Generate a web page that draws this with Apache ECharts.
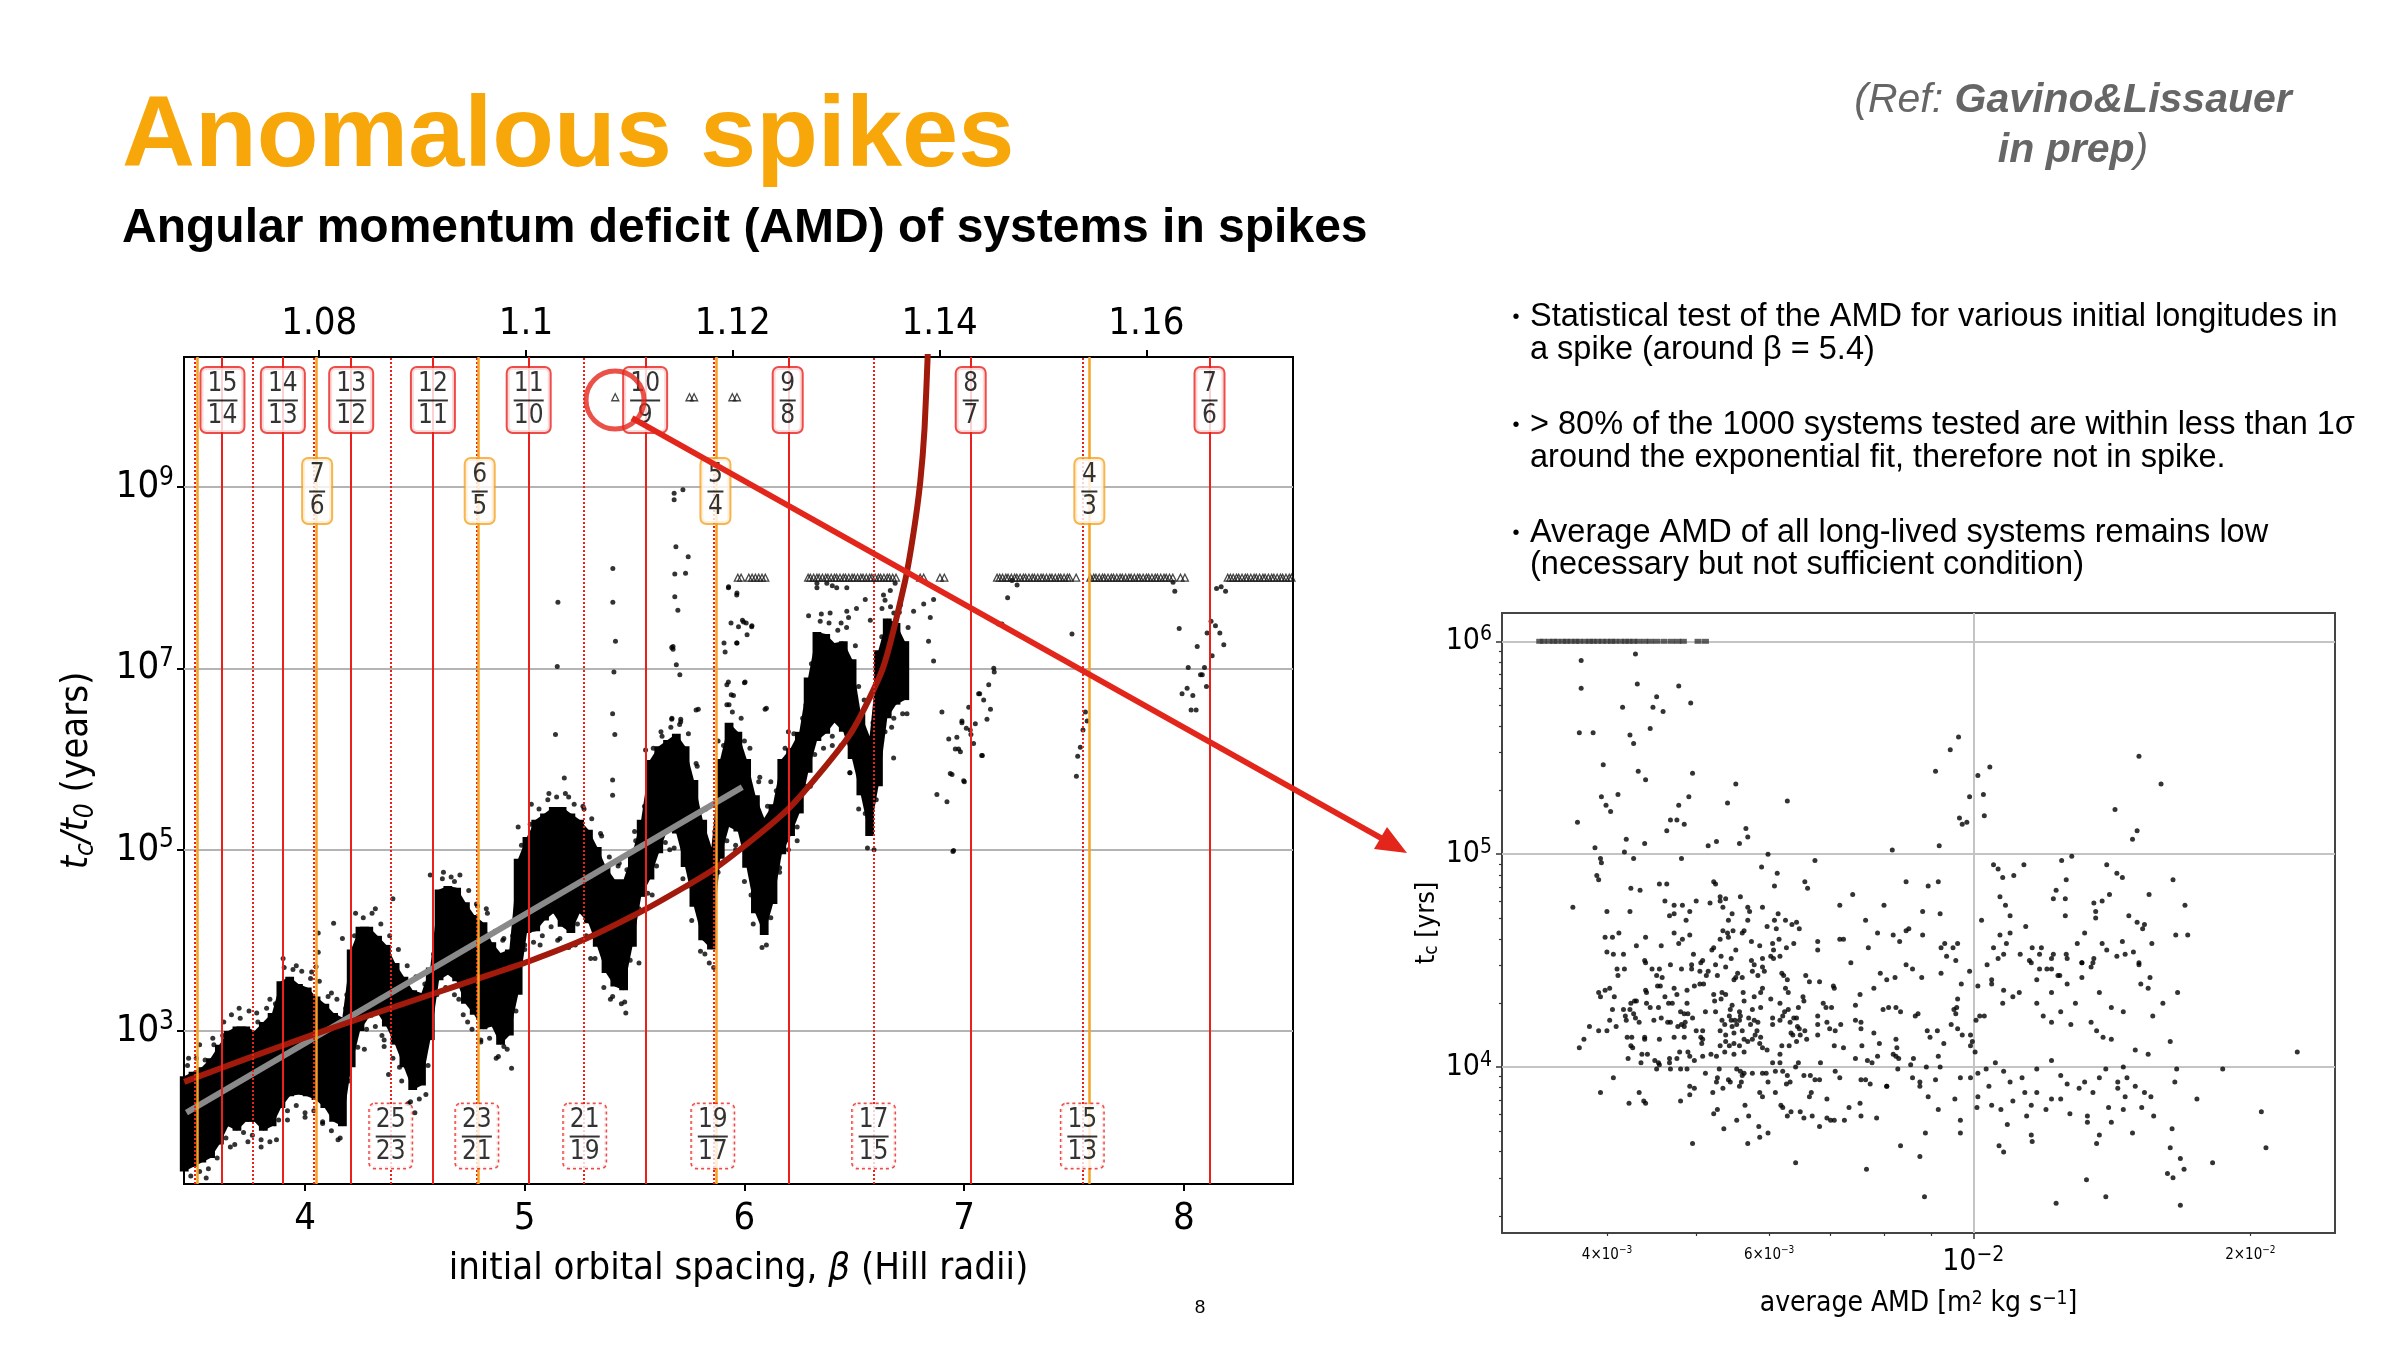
<!DOCTYPE html>
<html>
<head>
<meta charset="utf-8">
<title>Anomalous spikes</title>
<script src="https://cdn.jsdelivr.net/npm/echarts@6/dist/echarts.min.js"></script>
<style>
	html, body { margin: 0; padding: 0; background: #fff; }
	#slide { width: 2400px; height: 1350px; }
</style>
</head>
<body>
<div id="slide"></div>
<script>
// ---- left panel: crossing time vs initial spacing (log10 values)
var betaTicks = [ 4, 5, 6, 7, 8 ];
var ratioTicks = [ 1.08, 1.1, 1.12, 1.14, 1.16 ];
var tcTicks = [ 1e3, 1e5, 1e7, 1e9 ];

var firstOrderBeta = [ 3.624, 3.899, 4.210, 4.582, 5.018, 5.548, 6.197, 7.030, 8.117 ];
var firstOrderLabels = [ '15/14', '14/13', '13/12', '12/11', '11/10', '10/9', '9/8', '8/7', '7/6' ];
var secondOrderBeta = [ 3.510, 4.055, 4.795, 5.868, 7.570 ];
var secondOrderLabels = [ '', '7/6', '6/5', '5/4', '4/3' ];
var dottedBeta = [ 3.500, 3.763, 4.045, 4.390, 4.782, 5.273, 5.856, 6.588, 7.538 ];
var dottedLabels = [ '', '', '', '25/23', '23/21', '21/19', '19/17', '17/15', '15/13' ];

var expFitBeta = [ 3.46, 5.99 ];
var expFitLog = [ 2.10, 5.69 ];
var divergentBeta = [ 3.45, 3.75, 4.06, 4.30, 4.57, 4.79, 5.02, 5.28, 5.54, 5.87, 6.20, 6.48, 6.63, 6.73, 6.77, 6.80, 6.82, 6.835 ];
var divergentLog = [ 2.44, 2.71, 2.98, 3.18, 3.40, 3.58, 3.77, 4.02, 4.33, 4.80, 5.45, 6.27, 7.00, 7.95, 8.50, 9.05, 9.65, 10.50 ];

// dense part of the cloud: [beta, lowest log10, highest log10]
var cloudCore = [
	[ 3.45, 1.45, 2.50 ], [ 3.49, 1.50, 2.55 ], [ 3.53, 1.55, 2.60 ], [ 3.57, 1.60, 2.70 ],
	[ 3.61, 1.75, 2.85 ], [ 3.65, 1.95, 3.00 ], [ 3.69, 1.90, 3.05 ], [ 3.73, 2.00, 3.05 ],
	[ 3.77, 2.00, 3.00 ], [ 3.81, 1.90, 3.10 ], [ 3.85, 1.95, 3.20 ], [ 3.89, 2.15, 3.55 ],
	[ 3.93, 2.28, 3.60 ], [ 3.97, 2.30, 3.52 ], [ 4.01, 2.28, 3.48 ], [ 4.05, 2.24, 3.38 ],
	[ 4.09, 2.15, 3.30 ], [ 4.13, 2.00, 3.20 ], [ 4.17, 1.95, 3.15 ], [ 4.21, 2.60, 3.90 ],
	[ 4.25, 3.00, 4.15 ], [ 4.29, 3.15, 4.15 ], [ 4.33, 3.20, 4.05 ], [ 4.37, 3.05, 3.95 ],
	[ 4.41, 2.85, 3.75 ], [ 4.45, 2.60, 3.60 ], [ 4.49, 2.35, 3.45 ], [ 4.53, 2.40, 3.42 ],
	[ 4.57, 2.90, 3.70 ], [ 4.61, 3.56, 4.56 ], [ 4.65, 3.62, 4.60 ], [ 4.69, 3.55, 4.58 ],
	[ 4.73, 3.30, 4.42 ], [ 4.77, 3.18, 4.28 ], [ 4.81, 3.02, 4.20 ], [ 4.85, 3.05, 3.98 ],
	[ 4.89, 2.85, 3.86 ], [ 4.93, 2.95, 3.90 ], [ 4.97, 3.40, 4.90 ], [ 5.01, 4.08, 5.14 ],
	[ 5.05, 4.10, 5.33 ], [ 5.09, 4.22, 5.40 ], [ 5.13, 4.30, 5.47 ], [ 5.17, 4.15, 5.47 ],
	[ 5.21, 4.08, 5.40 ], [ 5.25, 4.30, 5.33 ], [ 5.29, 4.19, 5.22 ], [ 5.33, 3.93, 5.03 ],
	[ 5.37, 3.64, 4.81 ], [ 5.41, 3.49, 4.67 ], [ 5.45, 3.45, 4.67 ], [ 5.49, 3.93, 4.96 ],
	[ 5.53, 4.48, 5.33 ], [ 5.57, 4.67, 5.99 ], [ 5.61, 4.96, 6.14 ], [ 5.65, 5.22, 6.21 ],
	[ 5.69, 5.18, 6.28 ], [ 5.73, 4.81, 6.14 ], [ 5.77, 4.37, 5.77 ], [ 5.81, 4.00, 5.33 ],
	[ 5.85, 3.90, 5.03 ], [ 5.89, 4.90, 6.00 ], [ 5.93, 5.25, 6.40 ], [ 5.97, 5.20, 6.30 ],
	[ 6.01, 4.80, 6.00 ], [ 6.05, 4.30, 5.60 ], [ 6.09, 4.06, 5.35 ], [ 6.13, 4.40, 5.50 ],
	[ 6.17, 4.95, 6.00 ], [ 6.21, 5.15, 6.12 ], [ 6.25, 5.40, 6.30 ], [ 6.29, 5.85, 6.90 ],
	[ 6.33, 6.20, 7.40 ], [ 6.37, 6.28, 7.38 ], [ 6.41, 6.40, 7.28 ], [ 6.45, 6.30, 7.30 ],
	[ 6.49, 6.00, 7.10 ], [ 6.53, 5.60, 6.50 ], [ 6.57, 5.15, 6.25 ], [ 6.61, 5.70, 7.20 ],
	[ 6.65, 6.45, 7.55 ], [ 6.69, 6.60, 7.50 ], [ 6.73, 6.65, 7.30 ]
];

// scattered systems on the ragged upper and lower edges of the dense band
var cloudEdge = [
	[3.465,2.62],[3.44,1.36],[3.505,2.70],[3.48,1.40],[3.545,2.68],[3.52,1.45],[3.585,2.85],[3.56,1.48],[3.625,2.95],[3.60,1.60],
	[3.665,3.18],[3.64,1.82],[3.705,3.14],[3.68,1.75],[3.745,3.22],[3.72,1.88],[3.785,3.10],[3.76,1.85],[3.825,3.25],[3.80,1.80],
	[3.865,3.30],[3.84,1.78],[3.905,3.70],[3.88,2.02],[3.945,3.68],[3.92,2.12],[3.985,3.66],[3.96,2.18],[4.025,3.58],[4.00,2.10],
	[4.065,3.55],[4.04,2.12],[4.105,3.38],[4.08,1.98],[4.145,3.35],[4.12,1.90],[4.185,3.25],[4.16,1.82],[4.225,4.05],[4.20,2.45],
	[4.265,4.25],[4.24,2.82],[4.305,4.30],[4.28,3.02],[4.345,4.18],[4.32,3.05],[4.385,4.05],[4.36,2.90],[4.425,3.90],[4.40,2.70],
	[4.465,3.72],[4.44,2.45],[4.505,3.60],[4.48,2.22],[4.545,3.52],[4.52,2.25],[4.585,3.85],[4.56,2.62],[4.625,4.68],[4.60,3.42],
	[4.665,4.70],[4.64,3.48],[4.705,4.72],[4.68,3.40],[4.745,4.55],[4.72,3.18],[4.785,4.38],[4.76,3.02],[4.825,4.35],[4.80,2.88],
	[4.865,4.10],[4.84,2.92],[4.905,4.02],[4.88,2.72],[4.945,4.05],[4.92,2.80],[4.985,5.05],[4.96,3.22],[5.025,5.28],[5.00,3.95],
	[5.065,5.45],[5.04,3.98],[5.105,5.55],[5.08,4.05],[5.145,5.58],[5.12,4.15],[5.185,5.62],[5.16,4.02],[5.225,5.50],[5.20,3.92],
	[5.265,5.48],[5.24,4.18],[5.305,5.34],[5.28,4.05],[5.345,5.18],[5.32,3.80],[5.385,4.92],[5.36,3.48],[5.425,4.82],[5.40,3.38],
	[5.465,4.78],[5.44,3.30],[5.505,5.10],[5.48,3.78],[5.545,5.48],[5.52,4.35],[5.585,6.12],[5.56,4.52],[5.625,6.25],[5.60,4.82],
	[5.665,6.35],[5.64,5.08],[5.705,6.38],[5.68,5.02],[5.745,6.28],[5.72,4.68],[5.785,5.92],[5.76,4.22],[5.825,5.45],[5.80,3.88],
	[5.865,5.20],[5.84,3.75],[5.905,6.15],[5.88,4.75],[5.945,6.52],[5.92,5.10],[5.985,6.45],[5.96,5.05],[6.025,6.12],[6.00,4.65],
	[6.065,5.75],[6.04,4.18],[6.105,5.48],[6.08,3.92],[6.145,5.65],[6.12,4.25],[6.185,6.12],[6.16,4.80],[6.225,6.28],[6.20,5.00],
	[6.265,6.45],[6.24,5.25],[6.305,7.05],[6.28,5.70],[6.345,7.52],[6.32,6.05],[6.385,7.50],[6.36,6.12],[6.425,7.42],[6.40,6.25],
	[6.465,7.45],[6.44,6.15],[6.505,7.25],[6.48,5.85],[6.545,6.65],[6.52,5.45],[6.585,6.40],[6.56,5.02],[6.625,7.35],[6.60,5.55],
	[6.665,7.68],[6.64,6.30],[6.705,7.62],[6.68,6.45],[6.745,7.45],[6.72,6.50]
];

// single systems well away from the dense band: [beta, log10 tc/t0]
var looseSystems = [
	[3.47,2.70],[3.52,2.85],[3.55,1.38],[3.58,2.92],[3.63,3.10],[3.66,1.72],[3.70,3.25],[3.74,1.78],[3.78,3.20],[3.80,1.72],
	[3.84,3.35],[3.87,1.80],[3.90,3.80],[3.92,2.02],[3.96,3.72],[4.00,2.05],[4.03,3.65],[4.06,4.08],[4.06,3.87],[4.05,3.71],
	[4.08,2.00],[4.12,3.42],[4.13,4.19],[4.17,4.02],[4.15,1.80],[4.19,3.40],[4.23,4.30],[4.27,2.80],[4.32,4.35],[4.35,2.95],
	[4.40,4.46],[4.38,2.52],[4.36,2.83],[4.43,2.60],[4.47,2.20],[4.50,2.10],[4.55,2.30],[4.57,4.72],[4.60,3.40],[4.63,4.75],
	[4.68,4.65],[4.70,3.35],[4.74,3.10],[4.78,4.40],[4.80,2.90],[4.83,4.30],[4.87,2.70],[4.90,4.00],[4.94,2.59],[4.905,2.83],
	[4.97,5.25],[5.00,3.90],[5.03,5.50],[5.07,3.95],[5.11,5.62],[5.15,4.00],[5.20,5.58],[5.23,3.95],[5.27,5.45],[5.30,3.80],
	[5.35,5.15],[5.39,3.35],[5.43,4.85],[5.455,3.32],[5.46,3.20],[5.50,5.20],[5.52,3.75],[5.55,6.10],[5.58,4.50],[5.62,6.30],
	[5.66,5.00],[5.74,4.60],[5.78,5.95],[5.82,3.85],[5.86,3.70],[5.88,6.20],[5.92,6.60],[5.96,5.00],[6.00,6.20],[6.03,4.50],
	[6.07,5.80],[6.10,3.95],[6.12,5.75],[6.16,4.75],[6.20,6.30],[6.24,5.10],[6.28,6.60],[6.30,5.70],[6.35,7.60],[6.40,6.15],
	[6.44,7.50],[6.48,5.85],[6.52,6.80],[6.55,5.40],[6.59,5.00],[6.60,6.50],[6.64,7.75],[6.67,6.35],[6.71,7.70],[6.74,6.50],
	[5.14,6.27],[5.18,5.79],[5.40,6.50],[5.41,6.27],[5.40,5.77],[5.40,5.60],[5.78,6.54],[5.67,6.45],[5.71,6.41],[6.10,6.56],
	[5.92,6.82],[6.00,6.84],[5.94,6.71],[5.93,6.60],[5.151,7.73],[5.148,7.02],[5.401,8.10],[5.401,7.73],[5.413,7.30],[5.406,6.96],
	[5.68,8.86],[5.72,8.97],[5.68,8.93],[5.688,8.34],[5.744,8.23],[5.683,8.04],[5.732,8.05],[5.683,7.79],[5.697,7.64],[5.675,7.24],
	[5.675,7.21],[5.69,7.04],[5.706,6.93],[5.669,7.23],[5.927,7.89],[5.965,7.81],[5.996,7.51],[5.973,7.46],[6.034,7.47],[5.912,7.18],
	[5.965,7.28],[5.927,6.85],[6.003,6.85],[5.95,6.70],[6.094,6.55],[5.79,6.55],[5.669,6.44],[5.71,6.44],[5.928,7.90],[5.966,7.83],
	[5.939,7.50],[5.991,7.53],[6.008,7.50],[6.033,7.46],[6.012,7.37],[5.966,7.28],[5.907,7.28],[6.292,7.58],[6.33,7.89],[6.39,7.61],
	[6.42,7.89],[6.474,7.56],[6.466,7.63],[6.51,7.66],[6.55,7.76],[6.573,7.53],[6.633,7.81],[6.664,7.86],[6.68,7.61],[6.626,7.66],
	[6.40,7.91],[6.375,7.94],[6.686,7.94],[6.33,7.94],[6.466,7.89],[6.77,7.63],[6.816,7.71],[6.861,7.76],[6.846,7.56],[6.838,7.30],
	[6.861,7.08],[6.679,6.01],[6.899,6.52],[6.93,6.22],[6.975,6.11],[6.937,5.84],[6.876,5.61],[6.922,5.53],[6.998,5.76],[6.952,4.99],
	[6.99,6.42],[7.028,6.32],[7.043,6.17],[7.021,6.57],[7.066,6.72],[7.089,6.65],[7.12,6.55],[7.135,7.00],[7.08,6.04],[6.967,6.24],
	[6.960,6.11],[6.983,6.08],[6.990,6.40],[7.010,6.34],[7.031,6.27],[7.051,6.39],[7.071,6.72],[7.083,6.04],[7.104,6.44],[7.112,6.82],
	[7.137,6.96],[7.001,5.75],[6.945,5.83],[6.949,4.98],[7.157,7.49],[7.172,7.49],[7.198,7.78],[7.218,7.97],[7.241,7.92],[7.491,7.38],
	[7.552,6.52],[7.560,6.42],[7.541,6.32],[7.529,6.13],[7.517,6.03],[7.511,5.81],[7.951,7.95],[7.959,7.85],[7.979,7.44],[8.020,7.01],
	[7.992,6.72],[8.015,6.78],[8.041,6.70],[8.033,6.54],[8.056,6.54],[8.061,7.24],[8.076,6.93],[8.084,6.93],[8.094,7.01],[8.103,6.80],
	[8.106,7.39],[8.124,7.52],[8.129,7.14],[8.144,7.47],[8.164,7.39],[8.182,7.26],[8.149,7.88],[8.170,7.90],[8.190,7.85]
];

// systems still stable at the end of the integration (triangles)
var survivorBeta = [
	5.970, 5.985, 6.020, 6.035, 6.050, 6.065, 6.080, 6.095,
	6.290, 6.300, 6.315, 6.330, 6.340, 6.355, 6.370, 6.380, 6.395, 6.410, 6.420, 6.435, 6.450, 6.460, 6.475, 6.490,
	6.500, 6.515, 6.530, 6.540, 6.555, 6.570, 6.580, 6.595, 6.610, 6.620, 6.635, 6.650, 6.660, 6.675, 6.690,
	6.800, 6.816, 6.890, 6.910,
	7.150, 7.162, 7.175, 7.190, 7.200, 7.215, 7.230, 7.240, 7.255, 7.270, 7.280, 7.295, 7.310, 7.320,
	7.335, 7.350, 7.360, 7.375, 7.390, 7.400, 7.415, 7.430, 7.440, 7.455, 7.470, 7.480, 7.510,
	7.575, 7.590, 7.600, 7.615, 7.630, 7.640, 7.655, 7.670, 7.680, 7.695, 7.710, 7.720, 7.735, 7.750,
	7.760, 7.775, 7.790, 7.800, 7.815, 7.830, 7.840, 7.855, 7.870, 7.880, 7.895, 7.910, 7.920, 7.935, 7.950, 7.985, 8.005,
	8.200, 8.212, 8.225, 8.240, 8.250, 8.265, 8.280, 8.290, 8.305, 8.320, 8.330, 8.345, 8.360, 8.370,
	8.385, 8.400, 8.410, 8.425, 8.440, 8.450, 8.465, 8.480, 8.490
];
var survivorLog = 8.0;
var longSurvivorBeta = [ 5.412, 5.750, 5.771, 5.945, 5.966 ];
var longSurvivorLog = 9.99;

// ---- right panel: crossing time vs average AMD, [log10 AMD, log10 tc]
var amdLabelTicks = [ 0.004, 0.006, 0.01, 0.02 ];
var amdMajorTicks = [ 0.01 ];
var amdMinorTicks = [ 0.004, 0.005, 0.006, 0.007, 0.008, 0.009, 0.02 ];
var tcRightTicks = [ 1e4, 1e5, 1e6 ];
var tcRightMinor = [ 2e3, 3e3, 4e3, 5e3, 6e3, 7e3, 8e3, 9e3, 2e4, 3e4, 4e4, 5e4, 6e4, 7e4, 8e4, 9e4, 2e5, 3e5, 4e5, 5e5, 6e5, 7e5, 8e5, 9e5 ];

var cappedAmdLog = [ -2.471, -2.467, -2.461, -2.456, -2.452, -2.446, -2.442, -2.437, -2.432, -2.428, -2.422, -2.417, -2.413, -2.408, -2.403, -2.398,
	-2.393, -2.389, -2.383, -2.378, -2.374, -2.369, -2.364, -2.357, -2.351, -2.344, -2.336, -2.328, -2.321, -2.315, -2.299, -2.291 ];
var cappedTcLog = 6.0;

// the crowded lower-left block (AMD < 1e-2, 10^3.66 < tc < 10^4.78)
var amdSystemsCrowded = [
	[-2.435,4.75],[-2.398,4.73],[-2.373,4.73],[-2.335,4.78],[-2.325,4.76],[-2.316,4.76],[-2.301,4.78],[-2.286,4.77],[-2.275,4.78],[-2.272,4.75],
	[-2.330,4.71],[-2.325,4.72],[-2.308,4.73],[-2.312,4.69],[-2.262,4.72],[-2.266,4.69],[-2.245,4.75],[-2.243,4.73],[-2.245,4.69],[-2.229,4.75],
	[-2.145,4.76],[-2.097,4.76],[-2.055,4.73],[-2.036,4.72],[-2.117,4.69],[-2.212,4.72],[-2.216,4.69],[-2.204,4.69],[-2.197,4.67],[-2.192,4.68],
	[-2.189,4.65],[-2.224,4.66],[-2.214,4.65],
	[-2.400,4.61],[-2.392,4.61],[-2.385,4.63],[-2.356,4.61],[-2.325,4.63],[-2.308,4.62],[-2.316,4.60],[-2.320,4.58],[-2.366,4.57],[-2.339,4.57],
	[-2.272,4.64],[-2.267,4.63],[-2.261,4.64],[-2.251,4.63],[-2.249,4.64],[-2.275,4.60],[-2.266,4.61],[-2.241,4.59],[-2.232,4.57],[-2.218,4.58],
	[-2.211,4.60],[-2.217,4.55],[-2.203,4.56],[-2.195,4.58],[-2.169,4.59],[-2.169,4.55],[-2.145,4.60],[-2.141,4.60],[-2.104,4.63],[-2.087,4.62],
	[-2.080,4.59],[-2.073,4.64],[-2.070,4.65],[-2.055,4.62],[-2.114,4.56],[-2.031,4.58],[-2.035,4.56],[-2.022,4.56],[-2.017,4.58],[-2.029,4.52],
	[-2.019,4.50],[-2.284,4.55],[-2.282,4.56],[-2.258,4.55],[-2.398,4.54],[-2.391,4.53],[-2.380,4.53],[-2.304,4.53],[-2.274,4.52],[-2.263,4.51],
	[-2.357,4.50],[-2.356,4.49],[-2.329,4.48],[-2.294,4.50],[-2.296,4.49],[-2.306,4.48],[-2.306,4.46],[-2.280,4.48],[-2.269,4.47],[-2.241,4.50],
	[-2.238,4.48],[-2.229,4.47],[-2.229,4.51],[-2.220,4.52],[-2.210,4.52],[-2.217,4.51],[-2.387,4.46],[-2.379,4.46],[-2.386,4.43],[-2.349,4.46],
	[-2.344,4.43],[-2.341,4.46],[-2.338,4.42],[-2.317,4.46],[-2.297,4.45],[-2.288,4.45],[-2.290,4.43],[-2.278,4.43],[-2.256,4.44],[-2.258,4.42],
	[-2.260,4.41],[-2.251,4.42],[-2.240,4.45],[-2.234,4.43],[-2.227,4.45],[-2.208,4.44],[-2.206,4.43],[-2.202,4.41],[-2.182,4.43],[-2.178,4.40],
	[-2.167,4.40],[-2.133,4.49],[-2.073,4.48],[-2.066,4.46],[-2.056,4.42],[-2.101,4.44],[-2.094,4.41],[-2.085,4.42],[-2.035,4.44],[-2.004,4.45],
	[-2.013,4.39],[-1.995,4.38],[-2.108,4.37],[-2.152,4.38],[-2.151,4.37],
	[-2.407,4.35],[-2.405,4.33],[-2.400,4.36],[-2.395,4.37],[-2.390,4.33],[-2.356,4.36],[-2.355,4.35],[-2.343,4.38],[-2.340,4.38],[-2.325,4.37],
	[-2.322,4.34],[-2.311,4.36],[-2.303,4.38],[-2.297,4.39],[-2.293,4.39],[-2.335,4.33],[-2.331,4.30],[-2.327,4.30],[-2.342,4.28],[-2.351,4.28],
	[-2.355,4.30],[-2.368,4.31],[-2.366,4.31],[-2.372,4.30],[-2.373,4.27],[-2.369,4.25],[-2.380,4.27],[-2.392,4.27],[-2.282,4.34],[-2.273,4.35],
	[-2.269,4.34],[-2.274,4.32],[-2.281,4.31],[-2.280,4.26],[-2.291,4.26],[-2.311,4.30],[-2.318,4.26],[-2.314,4.25],[-2.262,4.29],[-2.264,4.27],
	[-2.254,4.26],[-2.250,4.35],[-2.249,4.31],[-2.238,4.33],[-2.229,4.37],[-2.231,4.35],[-2.220,4.32],[-2.210,4.30],[-2.201,4.35],[-2.204,4.37],
	[-2.185,4.33],[-2.184,4.31],[-2.205,4.26],[-2.201,4.27],[-2.190,4.28],[-2.231,4.28],[-2.253,4.24],[-2.240,4.27],[-2.163,4.30],[-2.160,4.28],
	[-2.154,4.28],[-2.128,4.29],[-2.123,4.34],[-2.098,4.27],[-2.092,4.28],[-2.084,4.28],[-2.079,4.26],[-2.060,4.25],[-2.021,4.27],[-2.018,4.28],
	[-2.017,4.32],[-2.019,4.25],
	[-2.417,4.19],[-2.407,4.17],[-2.398,4.17],[-2.395,4.22],[-2.388,4.19],[-2.377,4.22],[-2.378,4.24],[-2.367,4.23],[-2.363,4.21],[-2.347,4.22],
	[-2.339,4.23],[-2.332,4.21],[-2.329,4.21],[-2.321,4.19],[-2.317,4.20],[-2.313,4.21],[-2.314,4.19],[-2.310,4.25],[-2.305,4.23],[-2.301,4.17],
	[-2.294,4.17],[-2.296,4.14],[-2.273,4.22],[-2.270,4.20],[-2.275,4.17],[-2.265,4.24],[-2.263,4.22],[-2.259,4.22],[-2.257,4.20],[-2.262,4.19],
	[-2.254,4.22],[-2.244,4.23],[-2.238,4.22],[-2.234,4.21],[-2.242,4.20],[-2.218,4.23],[-2.210,4.22],[-2.207,4.24],[-2.199,4.21],[-2.195,4.23],
	[-2.192,4.23],[-2.191,4.19],[-2.189,4.18],[-2.188,4.15],[-2.196,4.15],[-2.181,4.13],[-2.183,4.17],[-2.218,4.20],[-2.235,4.17],[-2.237,4.15],
	[-2.231,4.14],[-2.251,4.17],[-2.260,4.16],[-2.269,4.15],[-2.249,4.13],[-2.169,4.24],[-2.169,4.20],[-2.169,4.15],[-2.159,4.21],[-2.156,4.18],
	[-2.150,4.17],[-2.144,4.20],[-2.128,4.22],[-2.122,4.21],[-2.122,4.18],[-2.108,4.16],[-2.102,4.11],[-2.084,4.13],[-2.063,4.24],[-2.050,4.17],
	[-2.039,4.17],[-2.047,4.14],[-2.024,4.20],[-2.017,4.18],[-2.012,4.15],[-2.003,4.15],[-1.997,4.22],[-1.993,4.24],
	[-2.428,4.09],[-2.423,4.13],[-2.376,4.14],[-2.371,4.14],[-2.372,4.10],[-2.370,4.09],[-2.357,4.14],[-2.357,4.13],[-2.341,4.13],[-2.325,4.14],
	[-2.314,4.14],[-2.295,4.11],[-2.294,4.13],[-2.275,4.10],[-2.269,4.12],[-2.265,4.10],[-2.260,4.11],[-2.254,4.10],[-2.245,4.12],[-2.240,4.13],
	[-2.232,4.11],[-2.229,4.09],[-2.224,4.08],[-2.249,4.07],[-2.260,4.06],[-2.270,4.07],[-2.279,4.05],[-2.285,4.06],[-2.294,4.05],[-2.303,4.03],
	[-2.308,4.05],[-2.310,4.07],[-2.319,4.07],[-2.322,4.04],[-2.330,4.04],[-2.330,4.02],[-2.342,4.02],[-2.346,4.03],[-2.354,4.06],[-2.360,4.06],
	[-2.361,4.02],[-2.375,4.04],[-2.208,4.10],[-2.210,4.06],[-2.200,4.10],[-2.198,4.16],[-2.192,4.12],[-2.151,4.10],[-2.141,4.09],[-2.121,4.10],
	[-2.115,4.03],[-2.110,4.02],[-2.104,4.05],[-2.087,4.06],[-2.083,4.09],[-2.084,4.05],[-2.081,4.04],[-2.065,4.04],[-2.038,4.05],[-2.032,4.11],
	[-2.001,4.12],[-2.003,4.10],[-1.998,4.07],[-2.128,4.04],[-2.166,4.02],
	[-2.391,3.95],[-2.344,3.99],[-2.341,4.01],[-2.329,3.99],[-2.318,3.99],[-2.311,3.99],[-2.291,3.97],[-2.276,3.99],[-2.278,3.95],[-2.279,3.93],
	[-2.272,3.90],[-2.266,3.94],[-2.264,3.93],[-2.257,3.99],[-2.253,3.98],[-2.251,3.96],[-2.249,3.97],[-2.252,3.93],[-2.254,3.91],[-2.240,3.97],
	[-2.229,3.97],[-2.225,3.97],[-2.218,4.02],[-2.215,3.98],[-2.210,4.02],[-2.207,3.98],[-2.202,3.96],[-2.203,3.92],[-2.199,3.93],[-2.193,4.00],
	[-2.190,4.02],[-2.184,3.96],[-2.177,3.96],[-2.172,3.94],[-2.167,3.94],[-2.150,3.98],[-2.145,3.95],[-2.122,3.94],[-2.117,3.94],[-2.112,3.92],
	[-2.094,3.91],[-2.082,3.99],[-2.066,3.95],[-2.058,3.93],[-2.058,3.91],[-2.068,4.01],[-2.051,4.00],[-2.041,3.94],[-2.036,4.00],[-2.014,3.95],
	[-2.003,3.95],[-1.995,3.97],
	[-2.405,3.88],[-2.363,3.88],[-2.374,3.83],[-2.358,3.84],[-2.356,3.83],[-2.318,3.84],[-2.308,3.91],[-2.303,3.90],[-2.308,3.87],[-2.283,3.88],
	[-2.282,3.78],[-2.278,3.80],[-2.271,3.71],[-2.257,3.75],[-2.248,3.82],[-2.244,3.77],[-2.232,3.88],[-2.229,3.86],[-2.223,3.93],[-2.215,3.88],
	[-2.209,3.82],[-2.207,3.81],[-2.202,3.77],[-2.198,3.79],[-2.188,3.79],[-2.184,3.76],[-2.176,3.88],[-2.178,3.86],[-2.175,3.77],[-2.167,3.72],
	[-2.159,3.85],[-2.159,3.76],[-2.155,3.75],[-2.151,3.75],[-2.140,3.75],[-2.135,3.81],[-2.122,3.77],[-2.123,3.83],[-2.105,3.76],[-2.094,3.91],
	[-2.049,3.86],[-2.038,3.80],[-2.020,3.85],[-2.014,3.75],[-1.995,3.86],[-1.996,3.81],[-2.233,3.72],[-2.223,3.69],[-2.232,3.67],[-2.052,3.69],
	[-2.014,3.69]
];

// everything outside that block
var amdSystemsSpread = [
	[-2.426,5.91],[-2.426,5.78],[-2.367,5.94],[-2.365,5.80],[-2.320,5.79],[-2.344,5.74],[-2.348,5.69],[-2.381,5.69],[-2.337,5.67],[-2.307,5.71],
	[-2.428,5.57],[-2.413,5.57],[-2.351,5.59],[-2.373,5.56],[-2.369,5.52],[-2.402,5.42],[-2.364,5.39],[-2.356,5.35],[-2.305,5.38],[-2.258,5.33],
	[-2.386,5.28],[-2.404,5.27],[-2.399,5.23],[-2.394,5.20],[-2.309,5.27],[-2.267,5.24],[-2.320,5.23],[-2.202,5.25],[-2.430,5.15],[-2.329,5.16],
	[-2.322,5.16],[-2.314,5.14],[-2.333,5.11],[-2.377,5.07],[-2.357,5.05],[-2.247,5.12],[-2.245,5.08],[-2.254,5.05],[-2.279,5.06],[-2.288,5.04],
	[-2.411,5.03],[-2.405,4.98],[-2.404,4.96],[-2.379,5.01],[-2.369,4.98],[-2.317,4.98],[-2.223,5.00],[-2.088,5.02],[-2.037,5.04],[-2.172,4.97],
	[-2.230,4.94],[-2.213,4.91],[-2.409,4.90],[-2.407,4.88],[-2.341,4.86],[-2.333,4.86],[-2.372,4.84],[-2.362,4.83],[-2.282,4.87],[-2.280,4.86],
	[-2.183,4.87],[-2.180,4.84],[-2.216,4.85],[-2.073,4.87],[-2.049,4.85],[-2.038,4.87],[-2.275,4.80],[-2.269,4.79],[-2.253,4.80],[-2.131,4.81],
	[-2.016,5.55],[-2.025,5.49],[-2.041,5.39],[-1.995,5.37],[-1.982,5.41],[-2.004,5.27],[-1.989,5.28],[-1.988,5.18],[-2.015,5.17],[-2.012,5.14],
	[-2.007,5.15],[-1.820,5.46],[-1.796,5.33],[-1.846,5.21],[-1.822,5.11],[-1.827,5.07],[-1.893,4.99],[-1.904,4.97],[-1.855,4.95],[-1.844,4.91],
	[-1.838,4.89],[-1.783,4.88],[-1.978,4.95],[-1.973,4.93],[-1.968,4.89],[-1.956,4.90],[-1.945,4.95],[-1.910,4.83],[-1.913,4.79],[-1.899,4.88],
	[-1.900,4.79],[-1.852,4.81],[-1.860,4.78],[-1.869,4.77],[-1.867,4.73],[-1.809,4.81],[-1.770,4.76],[-1.971,4.80],[-1.965,4.76],
	[-1.991,4.69],[-1.960,4.71],[-1.900,4.71],[-1.943,4.66],[-1.831,4.71],[-1.822,4.68],[-1.814,4.67],[-1.816,4.65],[-1.780,4.62],[-1.767,4.62],
	[-1.879,4.63],[-1.867,4.70],[-1.838,4.59],[-1.806,4.58],[-1.960,4.63],[-1.971,4.62],[-1.978,4.56],[-1.964,4.58],[-1.967,4.53],[-1.973,4.51],
	[-1.985,4.48],[-1.949,4.53],[-1.936,4.56],[-1.926,4.56],[-1.928,4.53],[-1.939,4.50],[-1.913,4.53],[-1.915,4.51],[-1.899,4.53],[-1.898,4.51],
	[-1.887,4.58],[-1.882,4.49],[-1.869,4.51],[-1.870,4.49],[-1.860,4.58],[-1.855,4.55],[-1.844,4.52],[-1.835,4.53],[-1.826,4.54],[-1.820,4.48],
	[-1.808,4.42],[-1.920,4.46],[-1.908,4.43],[-1.882,4.42],[-1.980,4.41],[-1.931,4.41],
	[-1.988,4.24],[-1.980,4.39],[-1.967,4.36],[-1.968,4.30],[-1.957,4.33],[-1.950,4.35],[-1.937,4.49],[-1.928,4.46],[-1.915,4.46],[-1.906,4.43],
	[-1.898,4.39],[-1.915,4.35],[-1.931,4.30],[-1.924,4.24],[-1.915,4.21],[-1.905,4.26],[-1.894,4.20],[-1.889,4.30],[-1.882,4.49],[-1.872,4.47],
	[-1.863,4.35],[-1.850,4.28],[-1.872,4.21],[-1.866,4.17],[-1.859,4.14],[-1.850,4.13],[-1.837,4.26],[-1.820,4.49],[-1.818,4.39],[-1.810,4.37],
	[-1.794,4.30],[-1.805,4.24],[-1.824,4.08],[-1.810,4.06],[-1.786,4.12],[-1.778,4.35],[-1.779,3.99],[-1.781,3.93],[-1.757,3.85],[-1.729,3.99],
	[-1.648,4.07],[-1.837,4.00],[-1.856,3.99],[-1.833,3.95],[-1.843,3.93],[-1.863,3.95],[-1.879,3.93],[-1.898,3.92],[-1.905,3.96],[-1.915,4.03],
	[-1.931,3.99],[-1.947,3.95],[-1.960,3.93],[-1.967,3.98],[-1.976,4.02],[-1.986,3.99],[-1.983,3.91],[-1.980,3.82],[-1.970,3.80],[-1.963,3.73],
	[-1.957,3.84],[-1.944,3.88],[-1.937,3.82],[-1.931,3.88],[-1.921,3.80],[-1.915,3.85],[-1.905,3.85],[-1.895,3.78],[-1.876,3.77],[-1.885,3.90],
	[-1.870,3.88],[-1.853,3.81],[-1.843,3.90],[-1.835,3.86],[-1.824,3.91],[-1.814,3.88],[-1.807,3.86],[-1.817,3.81],[-1.804,3.77],[-1.837,3.80],
	[-1.827,3.69],[-1.850,3.74],[-1.863,3.68],[-1.866,3.64],[-1.876,3.74],[-1.942,3.77],[-1.937,3.68],[-1.936,3.65],[-1.972,3.63],[-1.967,3.60],
	[-2.058,3.58],[-2.079,3.63],[-2.053,3.39],[-2.245,3.64],[-2.305,3.64],[-1.784,3.71],[-1.786,3.62],[-1.775,3.57],[-1.771,3.52],[-1.789,3.50],
	[-1.783,3.48],[-1.740,3.55],[-1.687,3.79],[-1.682,3.62],[-1.877,3.47],[-1.856,3.39],[-1.910,3.36],[-2.116,3.52],[-2.193,3.55],[-1.775,3.35]
];

( function() {
	'use strict';

	var FIG_FONT = "'DejaVu Sans Condensed', 'DejaVu Sans', sans-serif";
	var SLIDE_FONT = "'Liberation Sans', Arial, sans-serif";
	var RED = '#e8211c';
	var ORANGE = '#f5a321';
	var ARROW_RED = '#e3261b';

	var labelRowTop = 9.96;
	var labelRowMid = 8.956;
	var labelRowLow = 1.842;

	function pow10( v ) {
		return Math.pow( 10, v );
	}

	function fraction( txt ) {
		var parts = txt.split( '/' );
		var bar = Math.max( parts[0].length, parts[1].length ) > 1 ? 'bar2' : 'bar1';
		return '{n|' + parts[0] + '}\n{' + bar + '| }\n{n|' + parts[1] + '}';
	}

	var fracRich = {
		n: { fontSize: 26, lineHeight: 27, fontFamily: FIG_FONT, color: '#000' },
		bar1: { width: 16, height: 2, lineHeight: 5, fontSize: 2, backgroundColor: '#000' },
		bar2: { width: 30, height: 2, lineHeight: 5, fontSize: 2, backgroundColor: '#000' }
	};

	function labelData( betas, labels, row ) {
		var out = [];
		for ( var i = 0; i < betas.length; i ++ ) {
			if ( labels[i] ) {
				out.push( { value: [ betas[i], pow10( row ) ], label: { formatter: fraction( labels[i] ) } } );
			}
		}
		return out;
	}

	function labelSeries( data, color, dotted ) {
		return {
			type: 'scatter', xAxisIndex: 0, yAxisIndex: 0, z: 6, silent: true,
			symbolSize: 1, itemStyle: { color: 'rgba(0,0,0,0)' },
			data: data,
			label: {
				show: true, position: 'inside', backgroundColor: '#fff',
				borderColor: color, borderWidth: dotted ? 1.5 : 2, borderType: dotted ? 'dotted' : 'solid',
				borderRadius: 5, padding: [ 3, 6, 2, 6 ], rich: fracRich
			}
		};
	}

	function lineMarks( betas, color, type, width ) {
		return {
			type: 'scatter', xAxisIndex: 0, yAxisIndex: 0, z: 3, data: [],
			markLine: {
				silent: true, symbol: [ 'none', 'none' ], label: { show: false },
				lineStyle: { color: color, type: type, width: width },
				data: betas.map( function( b ) { return { xAxis: b }; } )
			}
		};
	}

	var supRich = {
		b: { fontSize: 38, lineHeight: 44, fontFamily: FIG_FONT, color: '#000' },
		s: { fontSize: 26, lineHeight: 26, fontFamily: FIG_FONT, color: '#000', verticalAlign: 'top' }
	};
	var supRichSmall = {
		b: { fontSize: 30, lineHeight: 34, fontFamily: FIG_FONT, color: '#000' },
		s: { fontSize: 21, lineHeight: 21, fontFamily: FIG_FONT, color: '#000', verticalAlign: 'top' },
		m: { fontSize: 15, lineHeight: 20, fontFamily: FIG_FONT, color: '#000' },
		ms: { fontSize: 10, lineHeight: 12, fontFamily: FIG_FONT, color: '#000', verticalAlign: 'top' }
	};

	var coreValues = cloudCore.map( function( c ) { return [ c[0], pow10( c[1] ), pow10( c[2] ) ]; } );

	var chart = echarts.init( document.getElementById( 'slide' ), null, { renderer: 'canvas' } );

	var option = {
		animation: false,
		backgroundColor: '#fff',
		textStyle: { fontFamily: FIG_FONT },
		grid: [
			{ left: 184, top: 357, width: 1109, height: 827, show: true, borderColor: '#000', borderWidth: 2, backgroundColor: 'transparent' },
			{ left: 1502, top: 613, width: 833, height: 620, show: true, borderColor: '#444', borderWidth: 2, backgroundColor: 'transparent' }
		],
		xAxis: [
			{
				type: 'value', gridIndex: 0, position: 'bottom', min: 3.449, max: 8.497,
				axisLine: { show: false },
				axisTick: { show: true, length: 7, lineStyle: { color: '#000', width: 2 }, customValues: betaTicks },
				axisLabel: { customValues: betaTicks, fontSize: 38, color: '#000', margin: 16, fontFamily: FIG_FONT },
				splitLine: { show: false },
				name: 'initial orbital spacing, {it|β} (Hill radii)', nameLocation: 'middle', nameGap: 66,
				nameTextStyle: { fontSize: 38, color: '#000', fontFamily: FIG_FONT, rich: { it: { fontSize: 38, fontStyle: 'italic', fontFamily: FIG_FONT, color: '#000' } } }
			},
			{
				type: 'value', gridIndex: 0, position: 'top', min: 1.06692, max: 1.17418,
				axisLine: { show: false },
				axisTick: { show: true, length: 7, lineStyle: { color: '#000', width: 2 }, customValues: ratioTicks },
				axisLabel: {
					customValues: ratioTicks, fontSize: 38, color: '#000', margin: 14, fontFamily: FIG_FONT,
					formatter: function( v ) { return String( + v.toFixed( 2 ) ); }
				},
				splitLine: { show: false }
			},
			{
				type: 'log', logBase: 10, gridIndex: 1, position: 'bottom', min: pow10( -2.512 ), max: pow10( -1.607 ),
				axisLine: { show: false },
				axisTick: { show: true, length: 6, lineStyle: { color: '#333', width: 1.5 }, customValues: amdMajorTicks },
				axisLabel: {
					customValues: amdLabelTicks, margin: 12, rich: supRichSmall,
					formatter: function( v ) {
						var e = Math.floor( Math.log10( v ) + 1e-9 );
						var m = Math.round( v / Math.pow( 10, e ) );
						if ( m === 1 ) {
							return '{b|10}{s|−' + ( - e ) + '}';
						}
						return '{m|' + m + '×10}{ms|−' + ( - e ) + '}';
					}
				},
				splitLine: { show: true, lineStyle: { color: '#c4c4c4', width: 2 } },
				name: 'average AMD [m{s|2} kg s{s|−1}]', nameLocation: 'middle', nameGap: 57,
				nameTextStyle: {
					fontSize: 28, color: '#000', fontFamily: FIG_FONT,
					rich: { s: { fontSize: 19, lineHeight: 19, verticalAlign: 'top', fontFamily: FIG_FONT, color: '#000' } }
				}
			},
			{
				type: 'log', logBase: 10, gridIndex: 1, position: 'bottom', min: pow10( -2.512 ), max: pow10( -1.607 ),
				axisLine: { show: false },
				axisTick: { show: true, length: 3, lineStyle: { color: '#333', width: 1.2 }, customValues: amdMinorTicks },
				axisLabel: { show: false },
				splitLine: { show: false }
			}
		],
		yAxis: [
			{
				type: 'log', logBase: 10, gridIndex: 0, min: pow10( 1.313 ), max: pow10( 10.434 ),
				axisLine: { show: false },
				axisTick: { show: true, length: 7, lineStyle: { color: '#000', width: 2 }, customValues: tcTicks },
				axisLabel: {
					customValues: tcTicks, margin: 10, rich: supRich,
					formatter: function( v ) { return '{b|10}{s|' + Math.round( Math.log10( v ) ) + '}'; }
				},
				splitLine: { show: true, lineStyle: { color: '#b4b4b4', width: 2 } },
				name: '{i|t}{sub|c}{i|/t}{sub|0}{n| (years)}', nameLocation: 'middle', nameGap: 85, nameRotate: 90,
				nameTextStyle: {
					fontSize: 38, color: '#000', fontFamily: FIG_FONT,
					rich: {
						i: { fontSize: 38, lineHeight: 44, fontStyle: 'italic', fontFamily: FIG_FONT, color: '#000' },
						sub: { fontSize: 26, lineHeight: 26, fontStyle: 'italic', verticalAlign: 'bottom', fontFamily: FIG_FONT, color: '#000' },
						n: { fontSize: 38, lineHeight: 44, fontFamily: FIG_FONT, color: '#000' }
					}
				}
			},
			{
				type: 'log', logBase: 10, gridIndex: 1, position: 'left', min: pow10( 3.22 ), max: pow10( 6.133 ),
				axisLine: { show: false },
				axisTick: { show: true, length: 6, lineStyle: { color: '#333', width: 1.5 }, customValues: tcRightTicks },
				axisLabel: {
					customValues: tcRightTicks, margin: 10, rich: supRichSmall,
					formatter: function( v ) { return '{b|10}{s|' + Math.round( Math.log10( v ) ) + '}'; }
				},
				splitLine: { show: true, lineStyle: { color: '#c4c4c4', width: 2 } },
				name: '{n|t}{s|c}{n| [yrs]}', nameLocation: 'middle', nameGap: 58, nameRotate: 90,
				nameTextStyle: {
					fontSize: 27, color: '#000', fontFamily: FIG_FONT,
					rich: {
						n: { fontSize: 27, lineHeight: 30, fontFamily: FIG_FONT, color: '#000' },
						s: { fontSize: 19, lineHeight: 19, verticalAlign: 'bottom', fontFamily: FIG_FONT, color: '#000' }
					}
				}
			},
			{
				type: 'log', logBase: 10, gridIndex: 1, position: 'left', min: pow10( 3.22 ), max: pow10( 6.133 ),
				axisLine: { show: false },
				axisTick: { show: true, length: 3, lineStyle: { color: '#333', width: 1.2 }, customValues: tcRightMinor },
				axisLabel: { show: false },
				splitLine: { show: false }
			}
		],
		series: [
			{
				// each column as a block, joined to the next one by a band
				type: 'custom', name: 'dense', xAxisIndex: 0, yAxisIndex: 0, z: 2, silent: true,
				renderItem: function( params, api ) {
					var i = params.dataIndex;
					var a = coreValues[i];
					var p1 = api.coord( [ a[0] - 0.02, a[2] ] );
					var p2 = api.coord( [ a[0] + 0.02, a[1] ] );
					var children = [ {
						type: 'rect',
						shape: { x: p1[0], y: p1[1], width: p2[0] - p1[0], height: p2[1] - p1[1] },
						style: { fill: '#000' }
					} ];
					if ( i < coreValues.length - 1 ) {
						var b = coreValues[i + 1];
						children.push( {
							type: 'polygon',
							shape: { points: [
								api.coord( [ a[0], a[2] ] ), api.coord( [ b[0], b[2] ] ),
								api.coord( [ b[0], b[1] ] ), api.coord( [ a[0], a[1] ] )
							] },
							style: { fill: '#000' }
						} );
					}
					return { type: 'group', children: children };
				},
				encode: { x: 0, y: [ 1, 2 ] },
				data: coreValues
			},
			{
				type: 'scatter', name: 'systems', xAxisIndex: 0, yAxisIndex: 0, z: 2, silent: true,
				symbolSize: 5, itemStyle: { color: '#000' },
				data: cloudEdge.concat( looseSystems ).map( function( p ) { return [ p[0], pow10( p[1] ) ]; } )
			},
			{
				type: 'scatter', name: 'survivors', xAxisIndex: 0, yAxisIndex: 0, z: 2, silent: true,
				symbol: 'triangle', symbolSize: 7,
				itemStyle: { color: 'rgba(0,0,0,0)', borderColor: '#1a1a1a', borderWidth: 1.3 },
				data: survivorBeta.map( function( b ) { return [ b, pow10( survivorLog ) ]; } )
					.concat( longSurvivorBeta.map( function( b ) { return [ b, pow10( longSurvivorLog ) ]; } ) )
			},
			lineMarks( dottedBeta, RED, 'dotted', 2 ),
			lineMarks( firstOrderBeta, RED, 'solid', 2 ),
			lineMarks( secondOrderBeta, ORANGE, 'solid', 2.5 ),
			{
				type: 'line', name: 'exponential fit', xAxisIndex: 0, yAxisIndex: 0, z: 4, silent: true,
				symbol: 'none', lineStyle: { color: '#8a8a8a', width: 6 },
				data: expFitBeta.map( function( b, i ) { return [ b, pow10( expFitLog[i] ) ]; } )
			},
			{
				type: 'line', name: 'divergent fit', xAxisIndex: 0, yAxisIndex: 0, z: 4, silent: true,
				symbol: 'none', smooth: 0.2, clip: true,
				lineStyle: { color: '#a11a0c', width: 6 },
				data: divergentBeta.map( function( b, i ) { return [ b, pow10( divergentLog[i] ) ]; } )
			},
			labelSeries( labelData( firstOrderBeta, firstOrderLabels, labelRowTop ), RED, false ),
			labelSeries( labelData( secondOrderBeta, secondOrderLabels, labelRowMid ), ORANGE, false ),
			labelSeries( labelData( dottedBeta, dottedLabels, labelRowLow ), RED, true ),
			{
				type: 'scatter', name: 'highlight', xAxisIndex: 0, yAxisIndex: 0, z: 8, silent: true,
				symbol: 'circle', symbolSize: 58,
				itemStyle: { color: 'rgba(0,0,0,0)', borderColor: ARROW_RED, borderWidth: 5 },
				data: [ [ 5.411, pow10( labelRowTop ) ] ]
			},
			{
				type: 'scatter', name: 'capped', xAxisIndex: 2, yAxisIndex: 1, z: 3, silent: true,
				symbol: 'rect', symbolSize: [ 7, 5 ], itemStyle: { color: '#3a3a3a' },
				data: cappedAmdLog.map( function( a ) { return [ pow10( a ), pow10( cappedTcLog ) ]; } )
			},
			{
				type: 'scatter', name: 'amd', xAxisIndex: 2, yAxisIndex: 1, z: 3, silent: true,
				symbolSize: 5, itemStyle: { color: '#000' },
				data: amdSystemsCrowded.concat( amdSystemsSpread ).map( function( p ) { return [ pow10( p[0] ), pow10( p[1] ) ]; } )
			}
		],
		graphic: [
			{
				type: 'text', x: 122, y: 138, z: 10,
				style: { text: 'Anomalous spikes', fill: '#f7a70a', fontSize: 101, fontWeight: 'bold', fontFamily: SLIDE_FONT, verticalAlign: 'middle' }
			},
			{
				type: 'text', x: 122, y: 229, z: 10,
				style: { text: 'Angular momentum deficit (AMD) of systems in spikes', fill: '#000', fontSize: 48, fontWeight: 'bold', fontFamily: SLIDE_FONT, verticalAlign: 'middle' }
			},
			{
				type: 'text', x: 2073, y: 126, z: 10,
				style: {
					text: '{r|(Ref: }{b|Gavino&Lissauer}\n{b|in prep}{r|)}', align: 'center', verticalAlign: 'middle',
					rich: {
						r: { fontSize: 41, lineHeight: 50, fontStyle: 'italic', fontFamily: SLIDE_FONT, fill: '#666' },
						b: { fontSize: 41, lineHeight: 50, fontStyle: 'italic', fontWeight: 'bold', fontFamily: SLIDE_FONT, fill: '#666' }
					}
				}
			},
			{ type: 'text', x: 1516, y: 317, style: { text: '•', fontSize: 20, fontFamily: SLIDE_FONT, fill: '#000', align: 'center', verticalAlign: 'middle' } },
			{ type: 'text', x: 1516, y: 425, style: { text: '•', fontSize: 20, fontFamily: SLIDE_FONT, fill: '#000', align: 'center', verticalAlign: 'middle' } },
			{ type: 'text', x: 1516, y: 533, style: { text: '•', fontSize: 20, fontFamily: SLIDE_FONT, fill: '#000', align: 'center', verticalAlign: 'middle' } },
			{ type: 'text', x: 1530, y: 317, style: { text: 'Statistical test of the AMD for various initial longitudes in', fontSize: 32.5, fontFamily: SLIDE_FONT, fill: '#000', verticalAlign: 'middle' } },
			{ type: 'text', x: 1530, y: 350, style: { text: 'a spike (around β = 5.4)', fontSize: 32.5, fontFamily: SLIDE_FONT, fill: '#000', verticalAlign: 'middle' } },
			{ type: 'text', x: 1530, y: 425, style: { text: '> 80% of the 1000 systems tested are within less than 1σ', fontSize: 32.5, fontFamily: SLIDE_FONT, fill: '#000', verticalAlign: 'middle' } },
			{ type: 'text', x: 1530, y: 458, style: { text: 'around the exponential fit, therefore not in spike.', fontSize: 32.5, fontFamily: SLIDE_FONT, fill: '#000', verticalAlign: 'middle' } },
			{ type: 'text', x: 1530, y: 533, style: { text: 'Average AMD of all long-lived systems remains low', fontSize: 32.5, fontFamily: SLIDE_FONT, fill: '#000', verticalAlign: 'middle' } },
			{ type: 'text', x: 1530, y: 565, style: { text: '(necessary but not sufficient condition)', fontSize: 32.5, fontFamily: SLIDE_FONT, fill: '#000', verticalAlign: 'middle' } },
			{ type: 'text', x: 1200, y: 1308, style: { text: '8', fontSize: 19, fontFamily: SLIDE_FONT, fill: '#000', align: 'center', verticalAlign: 'middle' } },
			{
				type: 'line', z: 9, silent: true,
				shape: { x1: 632, y1: 418, x2: 1381, y2: 838 },
				style: { stroke: ARROW_RED, lineWidth: 6 }
			},
			{
				type: 'polygon', z: 9, silent: true,
				shape: { points: [ [ 1407, 853 ], [ 1374, 849 ], [ 1387, 827 ] ] },
				style: { fill: ARROW_RED }
			}
		]
	};

	chart.setOption( option );
}() );
</script>
</body>
</html>
